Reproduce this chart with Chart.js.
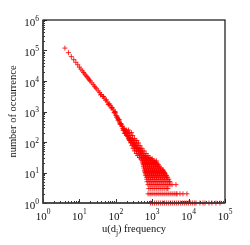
<!DOCTYPE html>
<html><head><meta charset="utf-8">
<script src="https://cdn.jsdelivr.net/npm/chart.js@4/dist/chart.umd.min.js"></script>
<style>html,body{margin:0;padding:0;background:#fff;}canvas{display:block;}</style>
</head><body>
<canvas id="c" width="250" height="245"></canvas>
<script>
// ---- data ----
const headFreq  = [4,5,6,7,8,9,10,11,12,13,14,15,16,17,18,19,20,22,24,26,28,30,33,36,40,44,48,53,58,64,70,77,85,93,102,112,123,135,148,163,180];
const headCount = [120000,85000,63000,50000,41000,34000,28500,24500,21500,19000,17000,15400,13900,12700,11600,10700,10000,8700,7600,6700,6000,5500,4750,4170,3600,3100,2750,2350,2050,1780,1550,1350,1120,910,740,600,490,400,325,263,213];

const bandFreq  = [38,46,55,62,68,75,82,90,98,108,115,125,132,140,152,160,168,175,185,195,210,215,230,245,255,275,290,310,330,350,360,390,420,440,480,500,560,620,700,780,900,1050,1200,1300];
const bandCount = [3500,3100,2400,1700,1750,1300,1300,920,900,700,520,540,380,390,330,240,270,190,230,170,150,190,120,140,100,120,85,95,70,80,60,66,48,56,40,46,35,33,30,29,26,23,20,24];

const midFreq  = [95,105,118,128,142,155,170,188,
  178,198,222, 188,212,238,268, 203,228,258,292, 222,250,285,325,
  238,268,302,342,378, 258,292,328,372,418, 278,312,352,400,460,
  298,336,380,430,485,520, 328,368,415,470,535,595, 365,410,465,525,595,680,
  398,448,505,575,655,765, 445,505,575,655,745,860, 490,555,630,715,810,920,1000];
const midCount = [1000,650,560,420,380,280,250,190,
  247,247,247, 205,205,205,205, 163,163,163,163, 131,131,131,131,
  112,112,112,112,112, 93,93,93,93,93, 76,76,76,76,76,
  62,62,62,62,62,62, 51,51,51,51,51,51, 42,42,42,42,42,42,
  36,36,36,36,36,36, 31,31,31,31,31,31, 28,28,28,28,28,28,28];

const tailCounts = [25,22,20,18,16,14,12,11,10,9,8,7,6,5,4,3,2,1];
const tailFreqs = [
  [525,595,675,765,870,985,1120],
  [540,615,700,795,900,1020,1160,1250],
  [560,635,720,815,925,1050,1190,1350],
  [570,650,735,835,950,1080,1220,1390,1480],
  [580,660,750,850,965,1095,1245,1410,1560],
  [590,670,760,865,980,1110,1260,1430,1630,1750],
  [610,690,785,890,1010,1150,1300,1480,1680,1900,1990],
  [625,710,805,915,1040,1180,1340,1520,1720,1950,2080],
  [640,725,825,935,1060,1205,1370,1550,1760,2000,2170],
  [650,740,840,950,1080,1225,1390,1580,1790,2030,2300],
  [665,755,855,970,1100,1250,1420,1610,1830,2080,2360,2460],
  [690,785,890,1010,1145,1300,1475,1675,1900,2160,2450,2650],
  [710,805,915,1040,1180,1340,1520,1725,1960,2220,2520,2870],
  [725,825,935,1060,1205,1365,1550,1760,2000,2270,2580,2930,3060],
  [765,870,985,1120,1270,1440,1635,1855,2105,2390,2710,3080,3500,4500],
  [810,920,1045,1185,1345,1530,1735,1970,2235,2540,2700],
  [770,875,990,1125,1280,1450,1645,1870,2120,2410,2735,3100,3520,4000,4540,4800,5800,7000,9000],
  [900,1020,1160,1320,1500,1700,1930,2190,2490,2830,3210,3640,4130,4690,5320,6040,6860,7790,8840,10000,11400,12900,14700,16000,20500,24900,28200,36300,43700,56400,72800]
];

const xTickValues = [1,10,100,1000,10000,100000];
const xTickExps   = ['0','1','2','3','4','5'];
const yTickValues = [1,10,100,1000,10000,100000,1000000];
const yTickExps   = ['0','1','2','3','4','5','6'];
const xTitleMain = 'u(d', xTitleSub = 'j', xTitleRest = ') frequency';
const yTitle = 'number of occurrence';

// ---- build points ----
const pts = [];
headFreq.forEach((f,i)=>pts.push({x:f,y:headCount[i]}));
bandFreq.forEach((f,i)=>pts.push({x:f,y:bandCount[i]}));
midFreq.forEach((f,i)=>pts.push({x:f,y:midCount[i]}));
tailFreqs.forEach((row,r)=>row.forEach(f=>pts.push({x:f,y:tailCounts[r]})));

const SERIF = '"Liberation Serif","Times New Roman",serif';

const axesPlugin = {
  id:'axesPlugin',
  beforeDraw(chart){
    const ctx=chart.ctx; ctx.save(); ctx.fillStyle='#fff';
    ctx.fillRect(0,0,chart.width,chart.height); ctx.restore();
  },
  afterDatasetsDraw(chart){
    const ctx=chart.ctx, a=chart.chartArea, xs=chart.scales.x, ys=chart.scales.y;
    ctx.save();
    ctx.strokeStyle='#333'; ctx.lineWidth=1;
    ctx.beginPath();
    for(let d=0; d<xTickValues.length; d++){
      const base=xTickValues[d];
      const px=Math.round(xs.getPixelForValue(base))+0.5;
      ctx.moveTo(px,a.bottom); ctx.lineTo(px,a.bottom-4);
      if(d<xTickValues.length-1){
        for(let m=2;m<10;m++){
          const p=Math.round(xs.getPixelForValue(base*m))+0.5;
          ctx.moveTo(p,a.bottom); ctx.lineTo(p,a.bottom-2);
        }
      }
    }
    for(let d=0; d<yTickValues.length; d++){
      const base=yTickValues[d];
      const py=Math.round(ys.getPixelForValue(base))+0.5;
      ctx.moveTo(a.left,py); ctx.lineTo(a.left+4,py);
      if(d<yTickValues.length-1){
        for(let m=2;m<10;m++){
          const p=Math.round(ys.getPixelForValue(base*m))+0.5;
          ctx.moveTo(a.left,p); ctx.lineTo(a.left+2,p);
        }
      }
    }
    ctx.stroke();
    ctx.strokeStyle='#111'; ctx.lineWidth=1.2;
    ctx.strokeRect(a.left,a.top,a.right-a.left,a.bottom-a.top);
    ctx.strokeStyle='#444'; ctx.lineWidth=1.6;
    ctx.beginPath(); ctx.moveTo(a.left,a.top); ctx.lineTo(a.left,a.bottom); ctx.lineTo(a.right,a.bottom); ctx.stroke();

    ctx.fillStyle='#111';
    const big='11px '+SERIF, sm='7.5px '+SERIF, ttl='10.5px '+SERIF;
    xTickValues.forEach((v,i)=>{
      const px=xs.getPixelForValue(v);
      ctx.font=big; const w1=ctx.measureText('10').width;
      ctx.font=sm; const w2=ctx.measureText(xTickExps[i]).width;
      const x0=px-(w1+w2)/2;
      ctx.font=big; ctx.textBaseline='alphabetic'; ctx.textAlign='left';
      ctx.fillText('10',x0,a.bottom+16.5);
      ctx.font=sm; ctx.fillText(xTickExps[i],x0+w1,a.bottom+10.5);
    });
    yTickValues.forEach((v,i)=>{
      const py=ys.getPixelForValue(v);
      ctx.font=sm; const w2=ctx.measureText(yTickExps[i]).width;
      ctx.font=big; const w1=ctx.measureText('10').width;
      const xr=39; const x0=xr-w2-w1;
      ctx.textAlign='left'; ctx.textBaseline='alphabetic';
      ctx.fillText('10',x0,py+5.5);
      ctx.font=sm; ctx.fillText(yTickExps[i],x0+w1,py+0.5);
    });
    ctx.font=ttl;
    const wa=ctx.measureText(xTitleMain).width;
    ctx.font=sm; const wb=ctx.measureText(xTitleSub).width;
    ctx.font=ttl; const wc=ctx.measureText(xTitleRest).width;
    const cx=(a.left+a.right)/2;
    let x0=cx-(wa+wb+wc)/2; const by=a.bottom+29;
    ctx.fillText(xTitleMain,x0,by);
    ctx.font=sm; ctx.fillText(xTitleSub,x0+wa,by+2.5);
    ctx.font=ttl; ctx.fillText(xTitleRest,x0+wa+wb,by);
    ctx.save();
    ctx.translate(16,(a.top+a.bottom)/2);
    ctx.rotate(-Math.PI/2);
    ctx.font=ttl; ctx.textAlign='center'; ctx.textBaseline='alphabetic';
    ctx.fillText(yTitle,0,0);
    ctx.restore();
    ctx.restore();
  }
};

new Chart(document.getElementById('c'),{
  type:'scatter',
  data:{datasets:[{
    label:'occurrence',
    data:pts,
    pointStyle:'cross',
    pointRadius:2.5,
    pointBorderWidth:1,
    borderColor:'rgba(255,0,0,0.85)',
    backgroundColor:'rgba(255,0,0,0.85)',
    clip:false
  }]},
  options:{
    responsive:false,
    animation:false,
    devicePixelRatio:1,
    layout:{padding:{left:43,top:20,right:25,bottom:42}},
    plugins:{legend:{display:false},tooltip:{enabled:false}},
    events:[],
    scales:{
      x:{type:'logarithmic',min:1,max:100000,display:false},
      y:{type:'logarithmic',min:1,max:1000000,display:false}
    }
  },
  plugins:[axesPlugin]
});
</script>
</body></html>
